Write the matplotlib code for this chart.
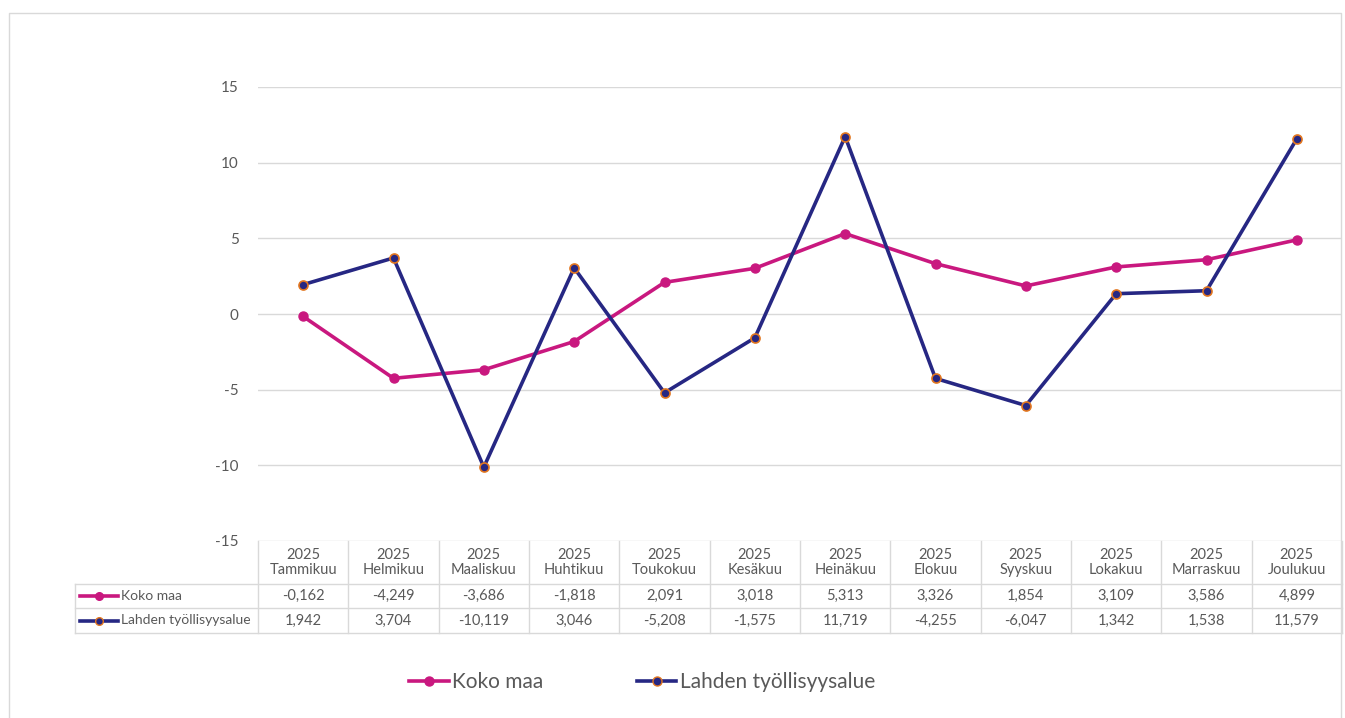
import matplotlib
matplotlib.use("Agg")
import matplotlib.pyplot as plt
from matplotlib.lines import Line2D
from matplotlib.transforms import blended_transform_factory

months = ["Tammikuu", "Helmikuu", "Maaliskuu", "Huhtikuu", "Toukokuu", "Kesäkuu",
          "Heinäkuu", "Elokuu", "Syyskuu", "Lokakuu", "Marraskuu", "Joulukuu"]
year = "2025"
koko_maa = [-0.162, -4.249, -3.686, -1.818, 2.091, 3.018, 5.313, 3.326, 1.854, 3.109, 3.586, 4.899]
lahti = [1.942, 3.704, -10.119, 3.046, -5.208, -1.575, 11.719, -4.255, -6.047, 1.342, 1.538, 11.579]
series_names = ["Koko maa", "Lahden työllisyysalue"]
yticks = [-15, -10, -5, 0, 5, 10, 15]

PINK = "#C9187F"
NAVY = "#262783"
ORANGE = "#E2761F"
GRID = "#D9D9D9"
TXT = "#595959"

plt.rcParams["font.family"] = ["Lato", "DejaVu Sans"]

W, H = 1345, 718
fig = plt.figure(figsize=(W / 100, H / 100), dpi=100)
fig.patch.set_facecolor("white")

left, right, top, bottom = 258, 1342, 87, 541
ax = fig.add_axes([left / W, 1 - bottom / H, (right - left) / W, (bottom - top) / H])

x = list(range(len(months)))
ax.plot(x, koko_maa, color=PINK, lw=2.6, marker="o", ms=6.5, mfc=PINK, mec=PINK, zorder=3)
ax.plot(x, lahti, color=NAVY, lw=2.6, marker="o", ms=6.5, mfc=NAVY, mec=ORANGE, mew=1.2, zorder=4)

ax.set_xlim(-0.5, len(months) - 0.5)
ax.set_ylim(-15, 15)
ax.set_yticks(yticks)
ax.set_yticklabels([str(v) for v in yticks])
ax.tick_params(axis="y", length=0, pad=14, labelsize=11, labelcolor=TXT)
ax.set_xticks([])
ax.grid(axis="y", color=GRID, lw=1)
ax.set_axisbelow(True)
for s in ax.spines.values():
    s.set_visible(False)

# data table under the plot
tr = blended_transform_factory(ax.transData, ax.transAxes)
ph = bottom - top
r0 = -43 / ph
r1 = -67 / ph
r2 = -92 / ph
lx = (75 - left) / (right - left)

for i in range(len(months) + 1):
    ax.plot([i - 0.5, i - 0.5], [0, r2], transform=tr, color=GRID, lw=1, clip_on=False)
for yy in (r0, r1, r2):
    ax.plot([lx, 1], [yy, yy], transform=ax.transAxes, color=GRID, lw=1, clip_on=False)
ax.plot([lx, lx], [r0, r2], transform=ax.transAxes, color=GRID, lw=1, clip_on=False)

for i, m in enumerate(months):
    ax.text(i, r0 / 2, year + "\n" + m, transform=tr, ha="center", va="center",
            fontsize=10.5, color=TXT, linespacing=1.15)
    ax.text(i, (r0 + r1) / 2, f"{koko_maa[i]:.3f}".replace(".", ","), transform=tr,
            ha="center", va="center", fontsize=10.5, color=TXT)
    ax.text(i, (r1 + r2) / 2, f"{lahti[i]:.3f}".replace(".", ","), transform=tr,
            ha="center", va="center", fontsize=10.5, color=TXT)

styles = [dict(color=PINK, mfc=PINK, mec=PINK), dict(color=NAVY, mfc=NAVY, mec=ORANGE, mew=1.0)]
for k, (name, st) in enumerate(zip(series_names, styles)):
    yc = (r0 + r1) / 2 if k == 0 else (r1 + r2) / 2
    kx0 = (80 - left) / (right - left)
    kx1 = (118 - left) / (right - left)
    ax.add_line(Line2D([kx0, kx1], [yc, yc], transform=ax.transAxes, lw=2.6,
                       clip_on=False, color=st["color"]))
    ax.add_line(Line2D([(kx0 + kx1) / 2], [yc], transform=ax.transAxes, marker="o", ms=5.5,
                       clip_on=False, ls="none", **{kk: v for kk, v in st.items() if kk != "color"}))
    ax.text((121 - left) / (right - left), yc, name, transform=ax.transAxes,
            ha="left", va="center", fontsize=10, color=TXT)

# outer frame
fx0, fx1, fy0 = 9 / W, 1341 / W, 1 - 13 / H
fig.add_artist(Line2D([fx0, fx0, fx1, fx1], [0, fy0, fy0, 0], transform=fig.transFigure,
                      color=GRID, lw=1))

handles = [Line2D([], [], color=PINK, lw=2.6, marker="o", ms=6.5, mfc=PINK, mec=PINK),
           Line2D([], [], color=NAVY, lw=2.6, marker="o", ms=6.5, mfc=NAVY, mec=ORANGE, mew=1.0)]
leg = fig.legend(handles, series_names, loc="center", bbox_to_anchor=(642 / W, 1 - 682 / H),
                 ncol=2, frameon=False, fontsize=15, handlelength=1.9, handletextpad=0.15,
                 columnspacing=4.5)
for t in leg.get_texts():
    t.set_color(TXT)

fig.savefig("out.png", dpi=100, facecolor="white")
